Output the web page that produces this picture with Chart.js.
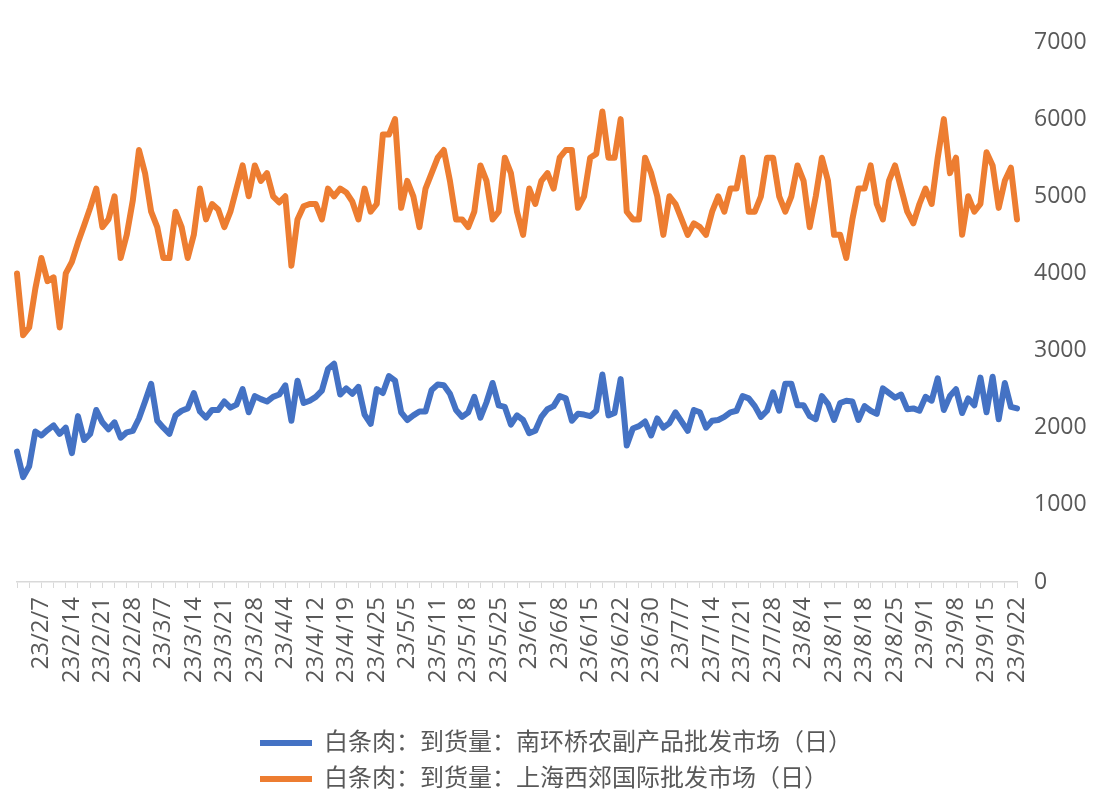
<!DOCTYPE html>
<html>
<head>
<meta charset="utf-8">
<script src="https://cdn.jsdelivr.net/npm/chart.js@4.4.0/dist/chart.umd.min.js"></script>
<style>
  html, body { margin: 0; padding: 0; background: #ffffff; }
  canvas { display: block; }
</style>
</head>
<body>
<canvas id="chart" width="1095" height="793"></canvas>
<script>
// x轴显示的日期标签（每5个交易日一个）
const tickLabels = [
  '23/2/7', '23/2/14', '23/2/21', '23/2/28', '23/3/7', '23/3/14', '23/3/21', '23/3/28',
  '23/4/4', '23/4/12', '23/4/19', '23/4/25', '23/5/5', '23/5/11', '23/5/18', '23/5/25',
  '23/6/1', '23/6/8', '23/6/15', '23/6/22', '23/6/30', '23/7/7', '23/7/14', '23/7/21',
  '23/7/28', '23/8/4', '23/8/11', '23/8/18', '23/8/25', '23/9/1', '23/9/8', '23/9/15', '23/9/22'
];
const labelEvery = 5;
const firstLabelIndex = 4;

const seriesNames = [
  '白条肉：到货量：南环桥农副产品批发市场（日）',
  '白条肉：到货量：上海西郊国际批发市场（日）'
];

// 南环桥
const nanhuanqiao = [
  1690, 1360, 1500, 1950, 1900, 1970, 2030, 1920, 2000, 1670,
  2150, 1840, 1920, 2230, 2070, 1980, 2070, 1870, 1940, 1960,
  2120, 2340, 2570, 2090, 2000, 1920, 2160, 2220, 2250, 2450,
  2210, 2130, 2230, 2230, 2340, 2260, 2300, 2500, 2200, 2410,
  2370, 2340, 2400, 2430, 2550, 2090, 2610, 2320, 2350, 2400,
  2480, 2760, 2830, 2430, 2510, 2440, 2530, 2170, 2050, 2500,
  2450, 2670, 2610, 2200, 2100, 2160, 2210, 2210, 2490, 2560,
  2550, 2440, 2230, 2140, 2200, 2400, 2130, 2330, 2580, 2290,
  2270, 2040, 2160, 2100, 1930, 1960, 2140, 2240, 2280, 2410,
  2380, 2090, 2180, 2170, 2150, 2220, 2690, 2160, 2190, 2630,
  1770, 1990, 2020, 2080, 1900, 2120, 2000, 2060, 2200, 2080,
  1960, 2230, 2200, 2000, 2090, 2100, 2140, 2200, 2220, 2410,
  2380, 2280, 2140, 2220, 2460, 2220, 2570, 2570, 2290, 2290,
  2150, 2110, 2410, 2310, 2100, 2320, 2350, 2340, 2100, 2280,
  2220, 2180, 2510, 2450, 2390, 2430, 2240, 2250, 2220, 2400,
  2350, 2640, 2230, 2410, 2500, 2190, 2380, 2290, 2650, 2200,
  2660, 2110, 2580, 2270, 2250
];

// 上海西郊
const xijiao = [
  4000, 3200, 3300, 3800, 4200, 3900, 3950, 3300, 4000, 4150,
  4400, 4620, 4850, 5100, 4600, 4700, 5000, 4200, 4500, 4950,
  5600, 5300, 4800, 4600, 4200, 4200, 4800, 4600, 4200, 4500,
  5100, 4700, 4900, 4830, 4600, 4800, 5100, 5400, 5000, 5400,
  5200, 5300, 5000, 4920, 5000, 4100, 4700, 4870, 4900, 4900,
  4700, 5100, 5000, 5100, 5050, 4930, 4700, 5100, 4800, 4900,
  5800, 5800, 6000, 4850, 5200, 5000, 4600, 5100, 5300, 5500,
  5600, 5200, 4700, 4700, 4600, 4800, 5400, 5200, 4700, 4800,
  5500, 5300, 4800, 4500, 5100, 4900, 5200, 5300, 5100, 5500,
  5600, 5600, 4850, 5000, 5500, 5550, 6100, 5500, 5500, 6000,
  4800, 4700, 4700, 5500, 5300, 5000, 4500, 5000, 4900, 4700,
  4500, 4650, 4600, 4500, 4800, 5000, 4800, 5100, 5100, 5500,
  4800, 4800, 5000, 5500, 5500, 5000, 4800, 5000, 5400, 5200,
  4600, 5000, 5500, 5200, 4500, 4500, 4200, 4700, 5100, 5100,
  5400, 4900, 4700, 5200, 5400, 5100, 4800, 4650, 4900, 5100,
  4900, 5500, 6000, 5300, 5500, 4500, 5000, 4800, 4900, 5570,
  5400, 4850, 5200, 5370, 4700
];

// 类别：只有每5个点显示一个日期
const categories = nanhuanqiao.map((v, i) =>
  (i - firstLabelIndex) % labelEvery === 0 ? tickLabels[(i - firstLabelIndex) / labelEvery] : ''
);

const textColor = '#595959';
const fontFamily = '"Open Sans", "Noto Sans CJK SC", sans-serif';
const legendPadding = 12;

// 图例两行左对齐，第一行居中（仿Excel）
const legendLeftAlign = {
  id: 'legendLeftAlign',
  afterLayout(chart) {
    const lg = chart.legend;
    if (!lg || !lg.lineWidths) return;
    const centeredX = (lg.left + legendPadding + lg.right - lg.lineWidths[0]) / 2;
    lg.left = centeredX - legendPadding;
  }
};

const ctx = document.getElementById('chart').getContext('2d');
new Chart(ctx, {
  type: 'line',
  data: {
    labels: categories,
    datasets: [
      {
        label: seriesNames[0],
        data: nanhuanqiao,
        borderColor: '#4472C4',
        backgroundColor: '#4472C4',
        borderWidth: 6,
        borderCapStyle: 'round',
        borderJoinStyle: 'round',
        pointRadius: 0,
        tension: 0
      },
      {
        label: seriesNames[1],
        data: xijiao,
        borderColor: '#ED7D31',
        backgroundColor: '#ED7D31',
        borderWidth: 6,
        borderCapStyle: 'round',
        borderJoinStyle: 'round',
        pointRadius: 0,
        tension: 0
      }
    ]
  },
  plugins: [legendLeftAlign],
  options: {
    responsive: false,
    animation: false,
    layout: {
      padding: { left: 17, right: 0, top: 42, bottom: -8 }
    },
    scales: {
      x: {
        type: 'category',
        offset: false,
        afterFit: scale => { scale.height = 137; },
        border: { display: true, color: '#d9d9d9', width: 1.5 },
        grid: {
          drawOnChartArea: false,
          drawTicks: true,
          tickLength: 6,
          color: c => (c.index % 2 === 0 ? '#d9d9d9' : 'rgba(0,0,0,0)')
        },
        ticks: {
          autoSkip: false,
          maxRotation: 90,
          minRotation: 90,
          padding: 9,
          color: textColor,
          font: { family: fontFamily, size: 24 }
        }
      },
      y: {
        position: 'right',
        min: 0,
        max: 7000,
        afterFit: scale => { scale.width = 78; },
        border: { display: false },
        grid: { display: false, drawTicks: false, tickLength: 0 },
        ticks: {
          stepSize: 1000,
          padding: 17,
          color: textColor,
          font: { family: fontFamily, size: 23 },
          callback: value => String(value)
        }
      }
    },
    plugins: {
      title: { display: false },
      tooltip: { enabled: false },
      legend: {
        position: 'bottom',
        align: 'start',
        labels: {
          usePointStyle: true,
          pointStyle: 'line',
          pointStyleWidth: 52,
          padding: legendPadding,
          color: textColor,
          font: { family: fontFamily, size: 24 }
        }
      }
    }
  }
});
</script>
</body>
</html>
